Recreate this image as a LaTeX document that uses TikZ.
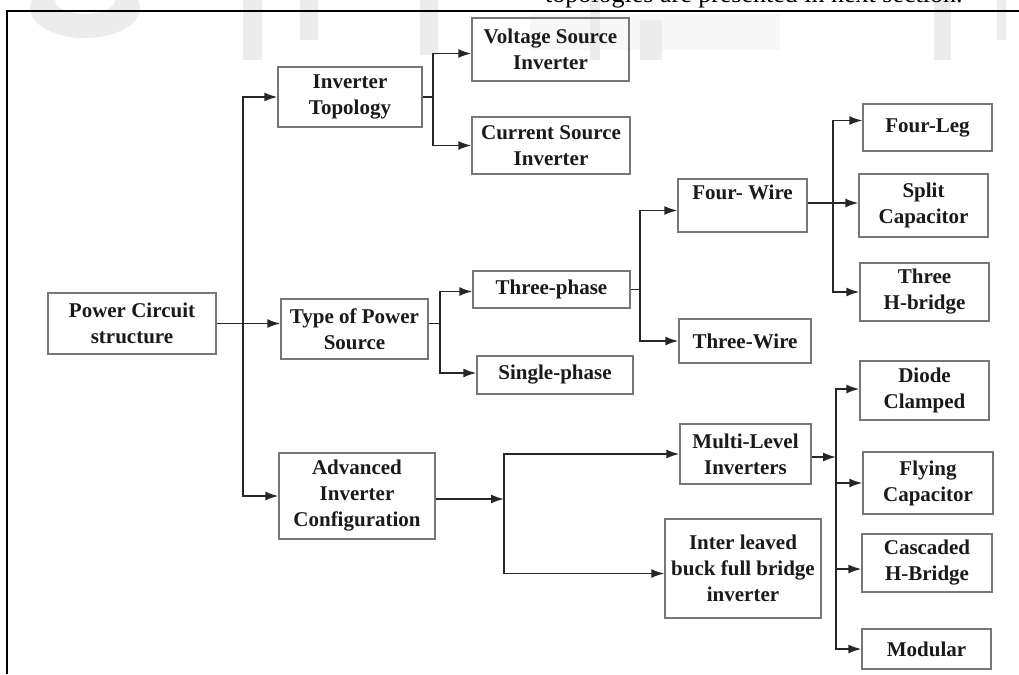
\documentclass[tikz,border=0pt]{standalone}
\usepackage{fontspec}
\setmainfont{Liberation Serif}
\usetikzlibrary{arrows.meta,calc}
\definecolor{boxline}{HTML}{777777}
\definecolor{arrline}{HTML}{262626}
\definecolor{txt}{HTML}{1A1A1A}
\definecolor{wm}{HTML}{ECECEC}
\tikzset{
  blk/.style={draw=boxline, line width=1.4pt, inner sep=0pt, align=center,
    font=\fontsize{21}{26}\selectfont\bfseries, text=txt},
  arr/.style={draw=arrline, line width=1.6pt, -{Latex[length=13pt,width=9pt]}},
  ln/.style={draw=arrline, line width=1.6pt},
  wmark/.style={fill=wm, draw=none},
}
\newcommand\mybox[6]{\node[blk, minimum width={#4-#2}, minimum height={#5-#3}] (#1) at ({(#2+#4)/2},{(#3+#5)/2}) {#6};}
\begin{document}
\begin{tikzpicture}[x=1pt,y=-1pt]
\useasboundingbox (0,0) rectangle (1019,674);
\clip (0,0) rectangle (1019,674);
\fill[white] (0,0) rectangle (1019,674);
% faint watermark remains at the top
\fill[wmark] (85,8) ellipse [x radius=55, y radius=30];
\fill[white] (85,0) ellipse [x radius=30, y radius=14];
\fill[wmark] (243,0) rectangle (262,60);
\fill[wmark] (300,0) rectangle (318,40);
\fill[wmark] (420,0) rectangle (438,55);
\fill[wmark, opacity=0.4] (530,14) rectangle (780,50);
\fill[wmark] (590,0) rectangle (600,60);
\fill[wmark] (640,20) rectangle (662,60);
\fill[wmark] (934,0) rectangle (951,60);
\fill[wmark] (997,0) rectangle (1006,40);
% frame and cut caption
\node[anchor=base west, font=\fontsize{26}{30}\selectfont, inner sep=0pt, text=black] (cap) at (545,3) {topologies are presented in next section.};
\draw[line width=2pt, black] (7,674) -- (7,11) -- (1019,11);
% boxes
\mybox{pcs}{48}{293}{216}{354}{Power Circuit\\structure}
\mybox{it}{278}{67}{422}{127}{Inverter\\Topology}
\mybox{vsi}{472}{18}{629}{81}{Voltage Source\\Inverter}
\mybox{csi}{472}{117}{630}{174}{Current Source\\Inverter}
\mybox{tps}{281}{299}{428}{359}{Type of Power\\Source}
\mybox{tp}{473}{271}{630}{308}{Three-phase}
\mybox{sp}{477}{356}{633}{394}{Single-phase}
\mybox{fw}{678}{179}{807}{232}{Four- Wire\\\mbox{}}
\mybox{tw}{679}{319}{811}{363}{Three-Wire}
\mybox{fl}{863}{104}{992}{151}{Four-Leg}
\mybox{sc}{859}{174}{988}{237}{Split\\Capacitor}
\mybox{thb}{860}{263}{989}{321}{Three\\H-bridge}
\mybox{aic}{279}{453}{435}{539}{Advanced\\Inverter\\Configuration}
\mybox{ml}{680}{424}{811}{484}{Multi-Level\\Inverters}
\mybox{il}{665}{519}{821}{618}{Inter leaved\\buck full bridge\\inverter}
\mybox{dc}{860}{361}{989}{420}{Diode\\Clamped}
\mybox{fc}{863}{452}{993}{514}{Flying\\Capacitor}
\mybox{ch}{862}{534}{992}{592}{Cascaded\\H-Bridge}
\mybox{mod}{862}{629}{991}{669}{Modular}
% connectors
\coordinate (trunk) at (243,323.5);
\draw[arr] (pcs.east) -- (tps.west |- pcs.east);
\draw[arr] (trunk) |- (it.west);
\draw[arr] (trunk) |- (aic.west);
\coordinate (b1) at (433,97);
\draw[ln] (it.east) -- (b1);
\draw[arr] (b1) |- ($(vsi.west)+(0,4)$);
\draw[arr] (b1) |- (csi.west);
\coordinate (b2) at (440,323.5);
\draw[ln] (tps.east |- pcs.east) -- (b2);
\draw[arr] (b2) |- ($(tp.west)+(0,2)$);
\draw[arr] (b2) |- ($(sp.west)+(0,-2)$);
\coordinate (b3) at (640,289.5);
\draw[ln] (tp.east) -- (b3);
\draw[arr] (b3) |- ($(fw.west)+(0,5)$);
\draw[arr] (b3) |- (tw.west);
\coordinate (b4) at (833,203);
\draw[ln] (fw.east |- b4) -- (b4);
\draw[arr] (b4) |- ($(fl.west)+(0,-7)$);
\draw[arr] (b4) |- (sc.west |- b4);
\draw[arr] (b4) |- (thb.west);
\coordinate (b5) at (504,499);
\draw[arr] (aic.east |- b5) -- (b5);
\draw[arr] (b5) |- (ml.west);
\draw[arr] (b5) |- ($(il.west)+(0,5)$);
\coordinate (b6) at (836,457);
\draw[arr] (ml.east |- b6) -- (b6);
\draw[arr] (b6) |- ($(dc.west)+(0,-1.5)$);
\draw[arr] (b6) |- (fc.west);
\draw[arr] (b6) |- ($(ch.west)+(0,6)$);
\draw[arr] (b6) |- (mod.west);
\end{tikzpicture}
\end{document}
